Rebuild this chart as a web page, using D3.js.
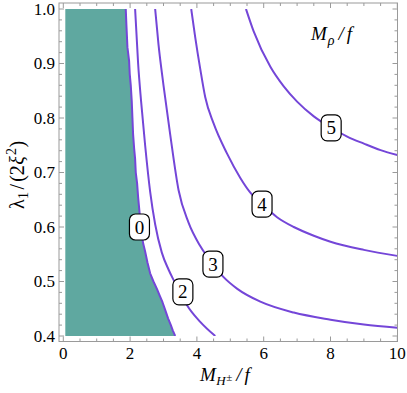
<!DOCTYPE html>
<html>
<head>
<meta charset="utf-8">
<script src="https://cdn.jsdelivr.net/npm/d3@7"></script>
<style>
html,body{margin:0;padding:0;background:#fff;}
svg{display:block;}
text{font-family:"Liberation Serif","Times New Roman",Times,serif;}
</style>
</head>
<body>
<svg id="chart" width="407" height="393"></svg>
<script>
// ---- data ----
const xTicks = [0, 2, 4, 6, 8, 10];
const xTickLabels = ["0", "2", "4", "6", "8", "10"];
const yTicks = [0.4, 0.5, 0.6, 0.7, 0.8, 0.9, 1.0];
const yTickLabels = ["0.4", "0.5", "0.6", "0.7", "0.8", "0.9", "1.0"];
const xMinorStep = 0.5;
const yMinorStep = 0.02;

// contour M_rho/f = 0 (boundary of shaded region), jagged as in the reference
const contour0 = [
  [1.87, 1.0], [1.89, 0.97], [1.92, 0.93], [1.97, 0.905], [1.99, 0.88], [2.02, 0.86],
  [2.05, 0.83], [2.07, 0.80], [2.09, 0.77], [2.12, 0.745], [2.15, 0.725], [2.17, 0.70],
  [2.21, 0.68], [2.24, 0.655], [2.27, 0.635], [2.30, 0.615], [2.34, 0.59], [2.39, 0.57],
  [2.45, 0.555], [2.52, 0.535], [2.60, 0.515], [2.70, 0.50], [2.80, 0.487], [2.88, 0.475],
  [2.97, 0.462], [3.05, 0.448], [3.14, 0.432], [3.22, 0.42], [3.28, 0.41], [3.35, 0.40]
];
const contour2 = [
  [2.15, 1.0], [2.24, 0.90], [2.33, 0.83], [2.45, 0.75], [2.60, 0.665], [2.75, 0.605],
  [2.95, 0.553], [3.15, 0.522], [3.30, 0.503], [3.50, 0.48], [3.70, 0.457], [4.10, 0.426], [4.55, 0.40]
];
const contour3 = [
  [2.75, 1.0], [2.85, 0.935], [3.0, 0.86], [3.2, 0.77], [3.45, 0.668], [3.75, 0.608],
  [4.1, 0.565], [4.48, 0.532], [4.8, 0.508], [5.2, 0.487], [5.9, 0.463], [6.9, 0.443],
  [8.0, 0.43], [9.0, 0.421], [10.0, 0.415]
];
const contour4 = [
  [3.83, 1.0], [3.95, 0.948], [4.1, 0.89], [4.25, 0.838], [4.5, 0.79], [4.9, 0.735],
  [5.3, 0.69], [5.6, 0.663], [5.95, 0.642], [6.4, 0.618], [6.9, 0.600], [7.5, 0.584],
  [8.0, 0.573], [9.0, 0.558], [10.0, 0.547]
];
const contour5 = [
  [5.47, 1.0], [5.7, 0.959], [6.2, 0.894], [6.6, 0.858], [7.0, 0.830], [7.5, 0.803],
  [8.0, 0.783], [8.5, 0.766], [9.0, 0.753], [9.5, 0.741], [10.0, 0.732]
];
const contourLevels = [0, 2, 3, 4, 5];
const contourLines = [contour0, contour2, contour3, contour4, contour5];
const labelLevels = ["0", "2", "3", "4", "5"];
const labelX = [2.28, 3.58, 4.48, 5.95, 8.02];
const labelY = [0.60, 0.481, 0.532, 0.642, 0.782];

// ---- layout ----
const frame = {left: 59, right: 397.5, top: 3, bottom: 341.5};
const x = d3.scaleLinear().domain([0, 10]).range([63.3, 397.3]);
const y = d3.scaleLinear().domain([0.4, 1.0]).range([336, 9]);

const teal = "#5fa8a0";
const purple = "#7446d8";
const frameColor = "#9a9a9a";
const serif = "'Liberation Serif','Times New Roman',Times,serif";

const svg = d3.select("#chart");

svg.append("defs").append("clipPath").attr("id", "plotclip")
  .append("rect")
  .attr("x", x(0)).attr("y", y(1.0))
  .attr("width", x(10) - x(0)).attr("height", y(0.4) - y(1.0));

const plot = svg.append("g").attr("clip-path", "url(#plotclip)");

// shaded region: left of contour 0
const region = [[0.06, 1.0], ...contour0, [0.06, 0.4]];
plot.append("path")
  .attr("d", d3.line().x(d => x(d[0])).y(d => y(d[1]))(region) + "Z")
  .attr("fill", teal)
  .attr("stroke", "none");

// contour lines
contourLines.forEach((pts, i) => {
  const gen = d3.line().x(d => x(d[0])).y(d => y(d[1]))
    .curve(i === 0 ? d3.curveLinear : d3.curveMonotoneX);
  plot.append("path")
    .attr("d", gen(pts))
    .attr("fill", "none")
    .attr("stroke", purple)
    .attr("stroke-width", 2)
    .attr("stroke-linejoin", "round");
});

// contour labels
labelLevels.forEach((lab, i) => {
  const cx = x(labelX[i]), cy = y(labelY[i]);
  const g = svg.append("g");
  g.append("rect")
    .attr("x", cx - 10).attr("y", cy - 13)
    .attr("width", 20).attr("height", 26)
    .attr("rx", 6).attr("ry", 6)
    .attr("fill", "#fff").attr("stroke", "#000").attr("stroke-width", 1.2);
  g.append("text")
    .attr("x", cx).attr("y", cy + 6.5)
    .attr("text-anchor", "middle")
    .attr("font-family", serif)
    .attr("font-size", 19)
    .text(lab);
});

// frame
svg.append("rect")
  .attr("x", frame.left).attr("y", frame.top)
  .attr("width", frame.right - frame.left).attr("height", frame.bottom - frame.top)
  .attr("fill", "none").attr("stroke", frameColor).attr("stroke-width", 1);

// ticks
const tk = svg.append("g").attr("stroke", frameColor).attr("stroke-width", 1);
const xMinor = d3.range(0, 10 + 1e-9, xMinorStep).filter(v => !xTicks.some(t => Math.abs(t - v) < 1e-6));
const yMinor = d3.range(0.4, 1.0 + 1e-9, yMinorStep).filter(v => !yTicks.some(t => Math.abs(t - v) < 1e-6));
function xt(v, len) {
  tk.append("line").attr("x1", x(v)).attr("x2", x(v)).attr("y1", frame.bottom).attr("y2", frame.bottom - len);
  tk.append("line").attr("x1", x(v)).attr("x2", x(v)).attr("y1", frame.top).attr("y2", frame.top + len);
}
function yt(v, len) {
  tk.append("line").attr("y1", y(v)).attr("y2", y(v)).attr("x1", frame.left).attr("x2", frame.left + len);
  tk.append("line").attr("y1", y(v)).attr("y2", y(v)).attr("x1", frame.right).attr("x2", frame.right - len);
}
xTicks.forEach(v => xt(v, 5));
xMinor.forEach(v => xt(v, 3));
yTicks.forEach(v => yt(v, 5));
yMinor.forEach(v => yt(v, 3));

// tick labels
xTicks.forEach((v, i) => {
  svg.append("text").attr("x", x(v)).attr("y", 358.5)
    .attr("text-anchor", "middle").attr("font-family", serif).attr("font-size", 17).text(xTickLabels[i]);
});
yTicks.forEach((v, i) => {
  svg.append("text").attr("x", 55).attr("y", y(v) + 5.5)
    .attr("text-anchor", "end").attr("font-family", serif).attr("font-size", 17).text(yTickLabels[i]);
});

// x axis title: M_{H±}/f
const xl = svg.append("text").attr("x", 200).attr("y", 381).attr("font-family", serif)
  .attr("font-size", 19).attr("font-style", "italic");
xl.append("tspan").text("M");
xl.append("tspan").attr("dy", 4).attr("dx", 0.5).attr("font-size", 13).text("H");
xl.append("tspan").attr("font-size", 11).attr("font-style", "normal").attr("dy", -4).attr("dx", 0.5).text("±");
xl.append("tspan").attr("dx", 4).text("/");
xl.append("tspan").attr("dx", 3).text("f");

// in-plot title: M_rho/f
const tl = svg.append("text").attr("x", 311).attr("y", 40).attr("font-family", serif)
  .attr("font-size", 19).attr("font-style", "italic");
tl.append("tspan").text("M");
tl.append("tspan").attr("dy", 5).attr("dx", 1).attr("font-size", 14).text("ρ");
tl.append("tspan").attr("dy", -5).attr("dx", 4).text("/");
tl.append("tspan").attr("dx", 3).text("f");

// y axis title: λ1/(2ξ^2)
const yl = svg.append("text")
  .attr("transform", "translate(24,175) rotate(-90)")
  .attr("text-anchor", "middle").attr("font-family", serif).attr("font-size", 20);
yl.append("tspan").text("λ");
yl.append("tspan").attr("dy", 4).attr("dx", 0.5).attr("font-size", 14).text("1");
yl.append("tspan").attr("dy", -4).attr("dx", 2.5).text("/");
yl.append("tspan").attr("dx", 2).text("(2");
yl.append("tspan").attr("font-style", "italic").attr("dx", 0.5).text("ξ");
yl.append("tspan").attr("dy", -8).attr("dx", 1).attr("font-size", 14).text("2");
yl.append("tspan").attr("dy", 8).attr("dx", 0.5).text(")");
</script>
</body>
</html>
